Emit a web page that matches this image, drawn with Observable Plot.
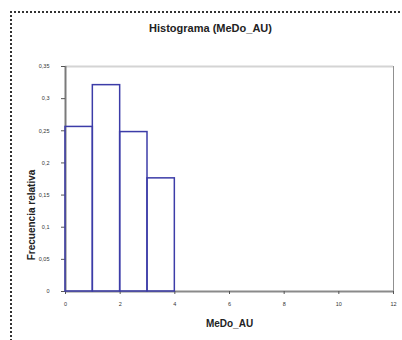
<!DOCTYPE html>
<html>
<head>
<meta charset="utf-8">
<script src="https://cdn.jsdelivr.net/npm/d3@7"></script>
<script src="https://cdn.jsdelivr.net/npm/@observablehq/plot@0.6"></script>
<style>
  html, body { margin: 0; padding: 0; background: #fff; }
  #wrap { position: relative; width: 402px; height: 340px; overflow: hidden; font-family: "Liberation Sans", Arial, sans-serif; }
  #border { position: absolute; left: 10px; top: 11px; width: 500px; height: 500px; border-top: 2px dotted #333; border-left: 2px dotted #333; }
  #chart { position: absolute; left: 0; top: 0; }
</style>
</head>
<body>
<div id="wrap"><div id="border"></div><div id="chart"></div></div>
<script>
const binStart = [0, 1, 2, 3, 4, 5, 6, 7, 8, 9];
const binEnd   = [1, 2, 3, 4, 5, 6, 7, 8, 9, 10];
const freq     = [0.256, 0.321, 0.248, 0.176, 0, 0, 0, 0, 0, 0];
const yTicks   = [0, 0.05, 0.1, 0.15, 0.2, 0.25, 0.3, 0.35];
const xTicks   = [0, 2, 4, 6, 8, 10, 12];
const title    = "Histograma (MeDo_AU)";
const xLabel   = "MeDo_AU";
const yLabel   = "Frecuencia relativa";

const data = binStart.map((s, i) => ({x1: s, x2: binEnd[i], y: freq[i]}));
const fmt = d => String(d).replace(".", ",");

const chart = Plot.plot({
  width: 402,
  height: 340,
  marginLeft: 65,
  marginRight: 9,
  marginTop: 66,
  marginBottom: 49,
  style: {fontFamily: "'Liberation Sans', Arial, sans-serif", background: "transparent"},
  x: {domain: [0, 12]},
  y: {domain: [0, 0.35]},
  marks: [
    Plot.ruleY([0.35], {stroke: "#d4d4d4", strokeWidth: 2}),
    Plot.ruleX([12], {stroke: "#909090", strokeWidth: 1}),
    Plot.ruleX([0], {stroke: "#7a7a7a", strokeWidth: 2}),
    Plot.ruleY([0], {stroke: "#8a8a8a", strokeWidth: 2}),
    Plot.axisY({ticks: yTicks, tickFormat: fmt, tickSize: 4, tickPadding: 12, fontSize: 5.5, stroke: "#555", label: null, fill: "#333"}),
    Plot.axisX({ticks: xTicks, tickFormat: fmt, tickSize: 3, tickPadding: 8, fontSize: 5.5, stroke: "#555", label: null, fill: "#333"}),
    Plot.rectY(data, {x1: "x1", x2: "x2", y: "y", fill: "none", stroke: "#3c3ca8", strokeWidth: 1.5}),
    Plot.text([title], {frameAnchor: "top", dx: -19, dy: -38, lineAnchor: "middle", fontSize: 11, fontWeight: "bold", fill: "#222"}),
    Plot.text([xLabel], {frameAnchor: "bottom", dy: 32, lineAnchor: "middle", fontSize: 10, fontWeight: "bold", fill: "#222"}),
    Plot.text([yLabel], {x: [-1.22], y: [0.119], clip: false, rotate: -90, lineAnchor: "middle", textAnchor: "middle", fontSize: 10, fontWeight: "bold", fill: "#222"})
  ]
});
document.getElementById("chart").appendChild(chart);
</script>
</body>
</html>
